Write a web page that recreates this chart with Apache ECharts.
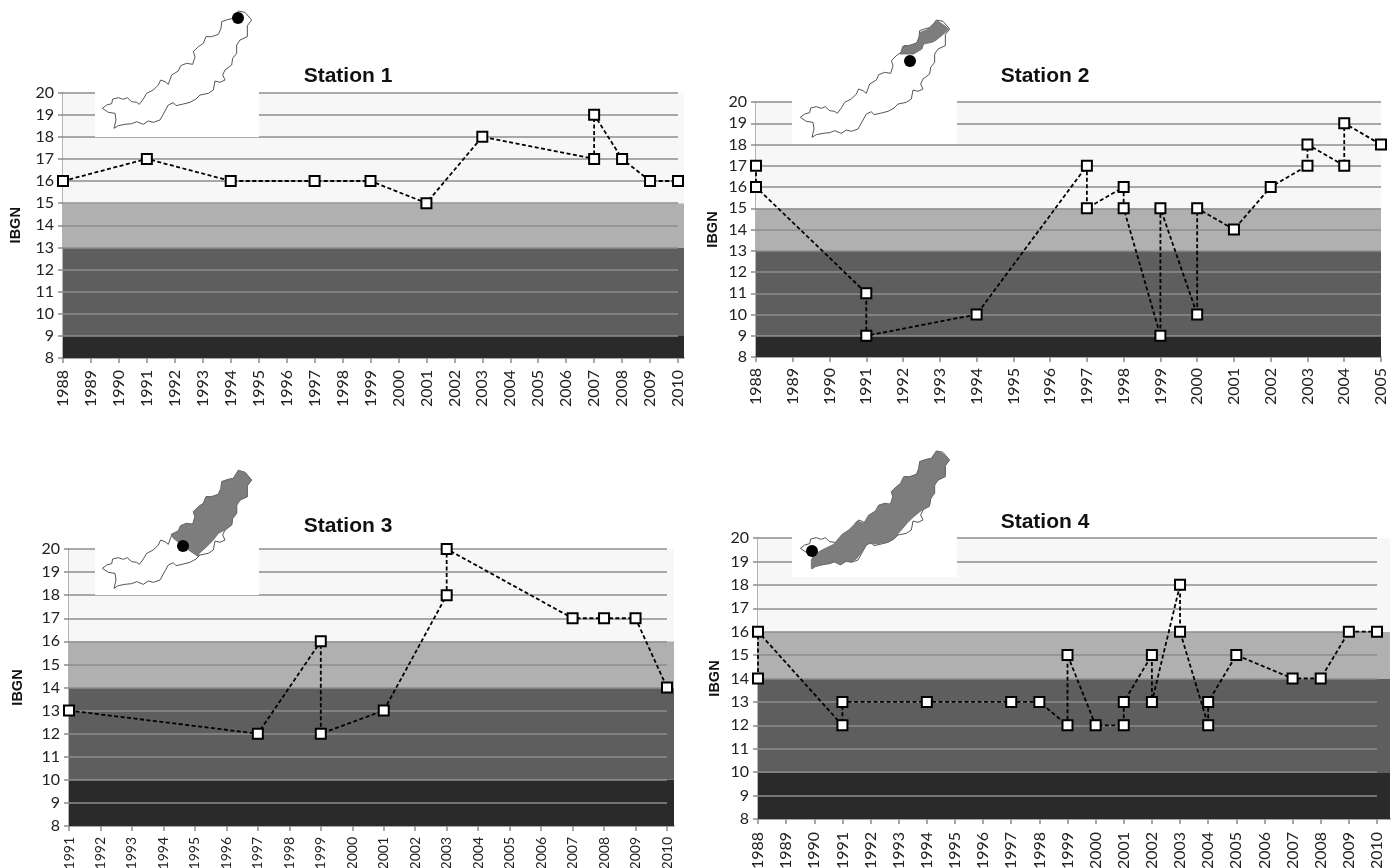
<!DOCTYPE html>
<html><head><meta charset="utf-8">
<style>html,body{margin:0;padding:0;background:#fff}#c{width:1399px;height:868px}</style>
<script src="https://cdn.jsdelivr.net/npm/echarts@6/dist/echarts.min.js"></script>
</head><body><div id="c"></div>
<script>
const yTicks = [8,9,10,11,12,13,14,15,16,17,18,19,20];
const labels1 = ['1988','1989','1990','1991','1992','1993','1994','1995','1996','1997','1998','1999','2000','2001','2002','2003','2004','2005','2006','2007','2008','2009','2010'];
const labels2 = ['1988','1989','1990','1991','1992','1993','1994','1995','1996','1997','1998','1999','2000','2001','2002','2003','2004','2005'];
const labels3 = ['1991','1992','1993','1994','1995','1996','1997','1998','1999','2000','2001','2002','2003','2004','2005','2006','2007','2008','2009','2010'];
const labels4 = labels1;

const years1 = ['1988','1991','1994','1997','1999','2001','2003','2007','2007','2008','2009','2010'];
const ibgn1  = [16,17,16,16,16,15,18,17,19,17,16,16];
const years2 = ['1988','1988','1991','1991','1994','1997','1997','1998','1998','1999','1999','2000','2000','2001','2002','2003','2003','2004','2004','2005'];
const ibgn2  = [17,16,11,9,10,17,15,16,15,9,15,10,15,14,16,17,18,17,19,18];
const years3 = ['1991','1997','1999','1999','2001','2003','2003','2007','2008','2009','2010'];
const ibgn3  = [13,12,16,12,13,18,20,17,17,17,14];
const years4 = ['1988','1988','1991','1991','1994','1997','1998','1999','1999','2000','2001','2001','2002','2002','2003','2003','2004','2004','2005','2007','2008','2009','2010'];
const ibgn4  = [14,16,12,13,13,13,13,12,15,12,12,13,15,13,18,16,12,13,15,14,14,16,16];

const bands12 = [8,9,13,15,20];
const bands34 = [8,10,14,16,20];
const bandColors = ['#2a2a2a','#5e5e5e','#b0b0b0','#f7f7f7'];
const titles = ['Station 1','Station 2','Station 3','Station 4'];

// Catchment outline of the inset map (map artwork, not data)
const outline = [[37,310],[50,300],[65,296],[68,282],[85,278],[100,283],[112,278],[125,290],[140,292],[148,298],[160,282],[170,265],[190,255],[205,240],[212,225],[225,230],[235,238],[245,210],[265,198],[272,182],[290,175],[308,178],[315,155],[310,140],[325,125],[340,115],[348,95],[365,95],[385,88],[393,70],[395,50],[412,44],[430,40],[445,18],[465,22],[485,45],[472,62],[472,95],[450,105],[440,120],[440,145],[428,160],[425,180],[405,195],[398,210],[405,225],[390,232],[375,228],[370,255],[355,265],[330,270],[318,282],[300,292],[280,297],[258,302],[250,293],[235,300],[225,318],[210,345],[190,352],[175,348],[160,358],[140,350],[125,356],[105,358],[85,362],[72,370],[78,345],[75,325],[55,322]];
const shade2 = [[337,120],[344,97],[367,93],[390,85],[397,55],[417,47],[432,33],[447,20],[467,33],[482,45],[467,60],[442,80],[432,85],[407,90],[402,105],[377,120],[352,120]];
const shade3 = [[243,208],[265,197],[272,182],[290,175],[308,178],[315,155],[310,140],[325,125],[340,115],[348,95],[365,95],[385,88],[393,70],[395,50],[412,44],[430,40],[445,15],[465,22],[485,45],[472,62],[472,95],[450,105],[440,120],[440,145],[428,160],[425,180],[405,195],[385,205],[370,225],[350,245],[328,265],[325,275],[300,258],[270,235],[250,220]];
const shade4 = [[70,370],[70,345],[77,330],[102,315],[137,298],[162,268],[182,255],[197,240],[207,228],[227,235],[242,210],[262,198],[272,180],[292,175],[307,178],[314,155],[310,140],[327,125],[337,115],[347,95],[367,95],[387,88],[392,70],[395,50],[412,44],[432,40],[447,18],[467,28],[482,45],[472,62],[470,95],[450,105],[440,120],[437,145],[427,165],[424,185],[402,195],[377,215],[357,235],[327,270],[317,282],[297,292],[277,295],[257,297],[242,295],[232,305],[207,340],[192,350],[172,350],[157,360],[137,350],[122,355],[102,360],[82,365],[72,372]];

const panels = [
 {labels:labels1,years:years1,vals:ibgn1,bands:bands12,l:63,r:684,t:92.5,b:358,axisEnd:678,gap:40,tx:343,ty:71,lm:12,lf:16,rect:[95,86,164,51],ox:90,oy:5,shade:null,dot:[238,18]},
 {labels:labels2,years:years2,vals:ibgn2,bands:bands12,l:756,r:1381,t:102,b:357,axisEnd:1381,gap:36,tx:1040,ty:71,lm:11,lf:16,rect:[792,96,165,48],ox:788,oy:14,shade:shade2,dot:[910,61]},
 {labels:labels3,years:years3,vals:ibgn3,bands:bands34,l:69,r:674,t:549,b:826,axisEnd:667,gap:44,tx:343,ty:521,lm:11,lf:14,rect:[95,543,164,52],ox:90,oy:465,shade:shade3,dot:[183,546]},
 {labels:labels4,years:years4,vals:ibgn4,bands:bands34,l:758,r:1390,t:538,b:819,axisEnd:1377,gap:36,tx:1040,ty:517,lm:13,lf:16,rect:[792,530,165,47],ox:788,oy:445,shade:shade4,dot:[812,551]}
];

const font = 'Lato, "Open Sans", sans-serif';
const W = 1399, H = 868;
const opt = {animation:false,backgroundColor:'#fff',title:[],grid:[],xAxis:[],yAxis:[],series:[],graphic:[]};

panels.forEach((p,i)=>{
  const last = p.labels.length-1;
  const step = (p.axisEnd-p.l)/last;
  const xMax = (p.r-p.l)/step;
  const idx = p.labels.map((_,k)=>k);
  opt.title.push({text:titles[i],left:p.tx,top:p.ty,textAlign:'center',textVerticalAlign:'middle',
    textStyle:{fontFamily:'"Liberation Sans",Arial,sans-serif',fontWeight:'bold',fontSize:21,color:'#111'}});
  opt.grid.push({left:p.l,top:p.t,width:p.r-p.l,height:p.b-p.t,containLabel:false,outerBoundsMode:'none'});
  opt.xAxis.push({type:'value',gridIndex:i,min:0,max:xMax,
    axisLine:{show:true,lineStyle:{color:'#8c8c8c',width:1.5}},
    axisTick:{show:true,length:5,customValues:idx,lineStyle:{color:'#8c8c8c',width:1.5}},
    axisLabel:{customValues:idx,rotate:90,margin:p.lm,fontFamily:font,fontSize:p.lf,color:'#222',
      formatter:v=>p.labels[Math.round(v)]},
    splitLine:{show:false}});
  opt.yAxis.push({type:'value',gridIndex:i,min:8,max:20,interval:1,
    name:'IBGN',nameLocation:'middle',nameGap:p.gap,nameRotate:90,
    nameTextStyle:{fontFamily:'"Liberation Sans",Arial,sans-serif',fontWeight:'bold',fontSize:14.5,color:'#111'},
    axisLine:{show:true,lineStyle:{color:'#9a9a9a',width:1.5}},
    axisTick:{show:true,length:5,lineStyle:{color:'#8c8c8c',width:1.5}},
    axisLabel:{margin:9,fontFamily:font,fontSize:16,color:'#222'},
    splitLine:{show:false}});
  // coloured quality bands
  opt.series.push({type:'line',xAxisIndex:i,yAxisIndex:i,data:[],silent:true,z:1,
    markArea:{silent:true,z:1,itemStyle:{opacity:1},
      data:bandColors.map((c,k)=>[{yAxis:p.bands[k],itemStyle:{color:c,opacity:1}},{yAxis:p.bands[k+1]}])}});
  // gridlines, drawn over the bands
  opt.series.push({type:'line',xAxisIndex:i,yAxisIndex:i,data:[],silent:true,z:2,
    markLine:{silent:true,z:2,symbol:'none',label:{show:false},
      lineStyle:{color:'#8e8e8e',width:1.5,type:'solid'},
      data:yTicks.filter(v=>v>8).map(v=>[{coord:[0,v]},{coord:[last,v]}])}});
  // measured IBGN
  opt.series.push({type:'line',xAxisIndex:i,yAxisIndex:i,z:5,clip:false,
    data:p.years.map((y,k)=>[p.labels.indexOf(y),p.vals[k]]),
    lineStyle:{color:'#000',width:1.8,type:[4,2.5]},
    symbol:'rect',symbolSize:10,showAllSymbol:true,
    itemStyle:{color:'#fff',borderColor:'#000',borderWidth:2,opacity:1}});
  // inset map
  const toPx = a => a.map(q=>[p.ox+q[0]/3,p.oy+q[1]/3]);
  opt.graphic.push({type:'rect',z:10,silent:true,shape:{x:p.rect[0],y:p.rect[1],width:p.rect[2],height:p.rect[3]},style:{fill:'#fff'}});
  opt.graphic.push({type:'polygon',z:11,silent:true,shape:{points:toPx(outline)},style:{fill:'#fff',stroke:'#555',lineWidth:1}});
  if(p.shade) opt.graphic.push({type:'polygon',z:12,silent:true,shape:{points:toPx(p.shade)},style:{fill:'#7d7d7d',stroke:'#6a6a6a',lineWidth:0.8}});
  opt.graphic.push({type:'circle',z:13,silent:true,shape:{cx:p.dot[0],cy:p.dot[1],r:6},style:{fill:'#000'}});
});

echarts.init(document.getElementById('c'),null,{renderer:'canvas',width:W,height:H}).setOption(opt);
</script></body></html>
